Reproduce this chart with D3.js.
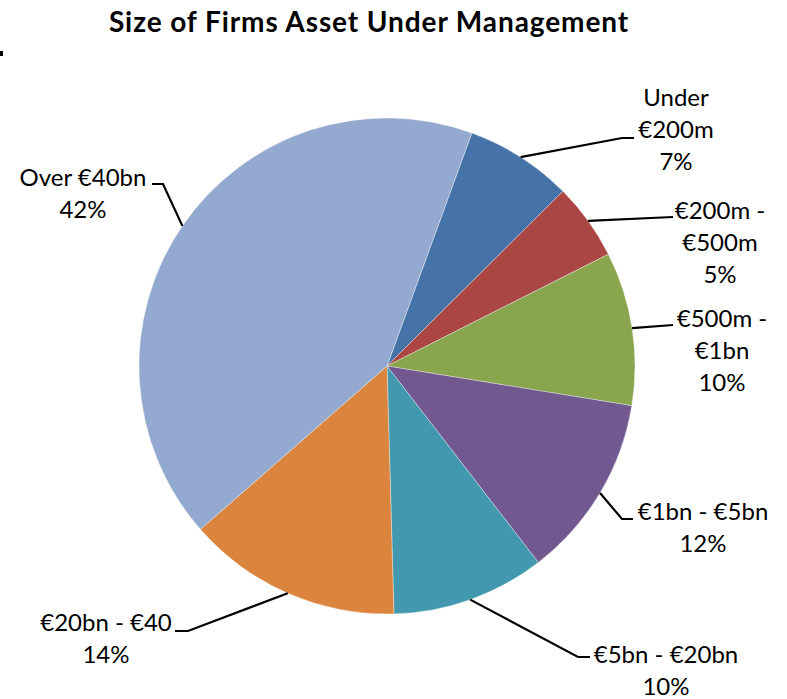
<!DOCTYPE html>
<meta charset="utf-8">
<head>
	<script src="https://d3js.org/d3.v7.min.js"></script>
</head>
<style>
	body {
		margin: 0;
		background: #fff;
	}
	text {
		font-family: "Lato", "Open Sans", sans-serif;
		fill: #000;
	}
	.title {
		font-weight: 700;
		font-size: 28px;
		letter-spacing: 0.9px;
	}
	.label {
		font-size: 24px;
	}
	.leader {
		fill: none;
		stroke: #000;
		stroke-width: 2.2px;
	}
</style>
<body>
<div id="chart"></div>
<script>
	// data
	var categories = ["Under €200m", "€200m - €500m", "€500m - €1bn", "€1bn - €5bn", "€5bn - €20bn", "€20bn - €40", "Over €40bn"];
	var shares = [7, 5, 10, 12, 10, 14, 42];
	var labelLines = [
		["Under", "€200m", "7%"],
		["€200m -", "€500m", "5%"],
		["€500m -", "€1bn", "10%"],
		["€1bn - €5bn", "12%"],
		["€5bn - €20bn", "10%"],
		["€20bn - €40", "14%"],
		["Over €40bn", "42%"]
	];
	var colors = ["#4572A7", "#AA4643", "#89A54E", "#71588F", "#4198AF", "#DB843D", "#93A9CF"];

	// label placement (text centre x, first line y, leader bend points)
	var labelLayout = [
		{x: 676, y: 98,  bends: [[622, 138], [634, 138]]},
		{x: 720, y: 211, bends: [[673, 217]]},
		{x: 722, y: 319, bends: [[673, 325]]},
		{x: 703, y: 512, bends: [[622, 519], [633, 519]]},
		{x: 666, y: 655, bends: [[578, 657], [590, 657]]},
		{x: 106, y: 623, bends: [[188, 631], [175, 631]]},
		{x: 83,  y: 178, bends: [[163, 184], [152, 184]]}
	];

	var width = 787, height = 699;
	var cx = 387, cy = 366, radius = 248;
	var lineHeight = 32;

	var svg = d3.select("#chart").append("svg")
		.attr("width", width)
		.attr("height", height);

	// little stray mark at the left edge of the original
	svg.append("rect")
		.attr("x", 0).attr("y", 51)
		.attr("width", 3).attr("height", 5)
		.attr("fill", "#000");

	svg.append("text")
		.attr("class", "title")
		.attr("x", 369)
		.attr("y", 32)
		.attr("text-anchor", "middle")
		.text("Size of Firms Asset Under Management");

	var startAngle = 20 * Math.PI / 180;
	var pie = d3.pie()
		.sort(null)
		.startAngle(startAngle)
		.endAngle(startAngle + 2 * Math.PI)
		.value(function(d) { return d; });

	var arcs = pie(shares);

	var arc = d3.arc()
		.innerRadius(0)
		.outerRadius(radius);

	var edge = d3.arc()
		.innerRadius(radius)
		.outerRadius(radius);

	var g = svg.append("g")
		.attr("transform", "translate(" + cx + "," + cy + ")");

	g.selectAll("path.slice")
		.data(arcs)
		.enter().append("path")
		.attr("class", "slice")
		.attr("d", arc)
		.attr("fill", function(d, i) { return colors[i]; })
		.attr("stroke", "#ffffff")
		.attr("stroke-opacity", 0.5)
		.attr("stroke-width", 0.7);

	// leader lines
	var line = d3.line();
	svg.selectAll("path.leader")
		.data(arcs)
		.enter().append("path")
		.attr("class", "leader")
		.attr("d", function(d, i) {
			var c = edge.centroid(d);
			var pts = [[cx + c[0], cy + c[1]]].concat(labelLayout[i].bends);
			return line(pts);
		});

	// labels
	var labels = svg.selectAll("text.label")
		.data(categories)
		.enter().append("text")
		.attr("class", "label")
		.attr("text-anchor", "middle");

	labels.each(function(d, i) {
		var t = d3.select(this);
		labelLines[i].forEach(function(s, j) {
			t.append("tspan")
				.attr("x", labelLayout[i].x)
				.attr("y", labelLayout[i].y + 8 + j * lineHeight)
				.text(s);
		});
	});
</script>
</body>
